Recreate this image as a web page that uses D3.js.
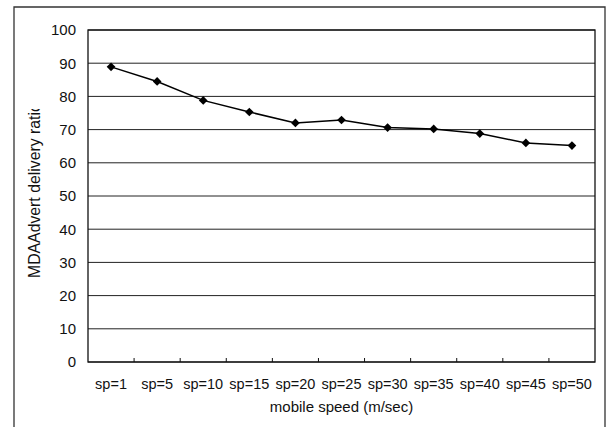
<!DOCTYPE html>
<html>
<head>
<meta charset="utf-8">
<script src="https://cdn.jsdelivr.net/npm/d3@7"></script>
<style>
  body { margin: 0; background: #fff; }
  text { font-family: "Liberation Sans", Arial, sans-serif; fill: #111; }
</style>
</head>
<body>
<div id="chart"></div>
<script>
// chart data
const categories = ["sp=1", "sp=5", "sp=10", "sp=15", "sp=20", "sp=25", "sp=30", "sp=35", "sp=40", "sp=45", "sp=50"];
const deliveryRatio = [88.9, 84.5, 78.8, 75.3, 72.0, 72.9, 70.6, 70.2, 68.8, 66.0, 65.2];
const yTicks = [0, 10, 20, 30, 40, 50, 60, 70, 80, 90, 100];

const width = 608, height = 427;
const margin = { top: 30, right: 13, bottom: 65, left: 88 };
const plotW = width - margin.left - margin.right;
const plotH = height - margin.top - margin.bottom;

const svg = d3.select("#chart")
  .append("svg")
  .attr("width", width)
  .attr("height", height);

// outer frame (open at the bottom, like the scan)
svg.append("path")
  .attr("d", `M14,${height} L14,7 L605,7 L605,${height}`)
  .attr("fill", "none")
  .attr("stroke", "#333")
  .attr("stroke-width", 1.3);

const g = svg.append("g")
  .attr("transform", `translate(${margin.left},${margin.top})`);

const x = d3.scaleBand()
  .domain(categories)
  .range([0, plotW]);

const y = d3.scaleLinear()
  .domain([0, 100])
  .range([plotH, 0]);

// gridlines
g.selectAll(".grid")
  .data(yTicks)
  .enter()
  .append("line")
  .attr("class", "grid")
  .attr("x1", 0)
  .attr("x2", plotW)
  .attr("y1", d => y(d))
  .attr("y2", d => y(d))
  .attr("stroke", "#222")
  .attr("stroke-width", 1);

// plot box
g.append("rect")
  .attr("width", plotW)
  .attr("height", plotH)
  .attr("fill", "none")
  .attr("stroke", "#111")
  .attr("stroke-width", 1.3);

// y axis labels
const yAxis = d3.axisLeft(y).tickValues(yTicks).tickSize(0).tickPadding(12);
g.append("g")
  .call(yAxis)
  .call(s => s.select(".domain").remove())
  .selectAll("text")
  .style("font-size", "15px")
  .attr("fill", "#111");

// x axis: small inward ticks at category boundaries
const bounds = categories.slice(1).map(c => x(c));
g.selectAll(".xtick")
  .data(bounds)
  .enter()
  .append("line")
  .attr("x1", d => d)
  .attr("x2", d => d)
  .attr("y1", plotH)
  .attr("y2", plotH - 4)
  .attr("stroke", "#111");

const xAxis = d3.axisBottom(x).tickSize(0).tickPadding(17);
g.append("g")
  .attr("transform", `translate(0,${plotH})`)
  .call(xAxis)
  .call(s => s.select(".domain").remove())
  .selectAll("text")
  .style("font-size", "14.5px")
  .attr("fill", "#111");

// series line
const pts = categories.map((c, i) => [x(c) + x.bandwidth() / 2, y(deliveryRatio[i])]);
g.append("path")
  .datum(pts)
  .attr("d", d3.line())
  .attr("fill", "none")
  .attr("stroke", "#000")
  .attr("stroke-width", 1.5);

g.selectAll(".marker")
  .data(pts)
  .enter()
  .append("path")
  .attr("class", "marker")
  .attr("transform", d => `translate(${d[0]},${d[1]})`)
  .attr("d", d3.symbol().type(d3.symbolDiamond2).size(48))
  .attr("fill", "#000");

// axis titles
svg.append("text")
  .attr("x", margin.left + plotW / 2)
  .attr("y", 412)
  .attr("text-anchor", "middle")
  .style("font-size", "15px")
  .text("mobile speed (m/sec)");

svg.append("clipPath")
  .attr("id", "yclip")
  .append("rect")
  .attr("x", 0)
  .attr("y", 109)
  .attr("width", 60)
  .attr("height", 300);

svg.append("g")
  .attr("clip-path", "url(#yclip)")
  .append("text")
  .attr("transform", "translate(40,278) rotate(-90)")
  .attr("text-anchor", "start")
  .style("font-size", "15.8px")
  .text("MDAAdvert delivery ratio");
</script>
</body>
</html>
